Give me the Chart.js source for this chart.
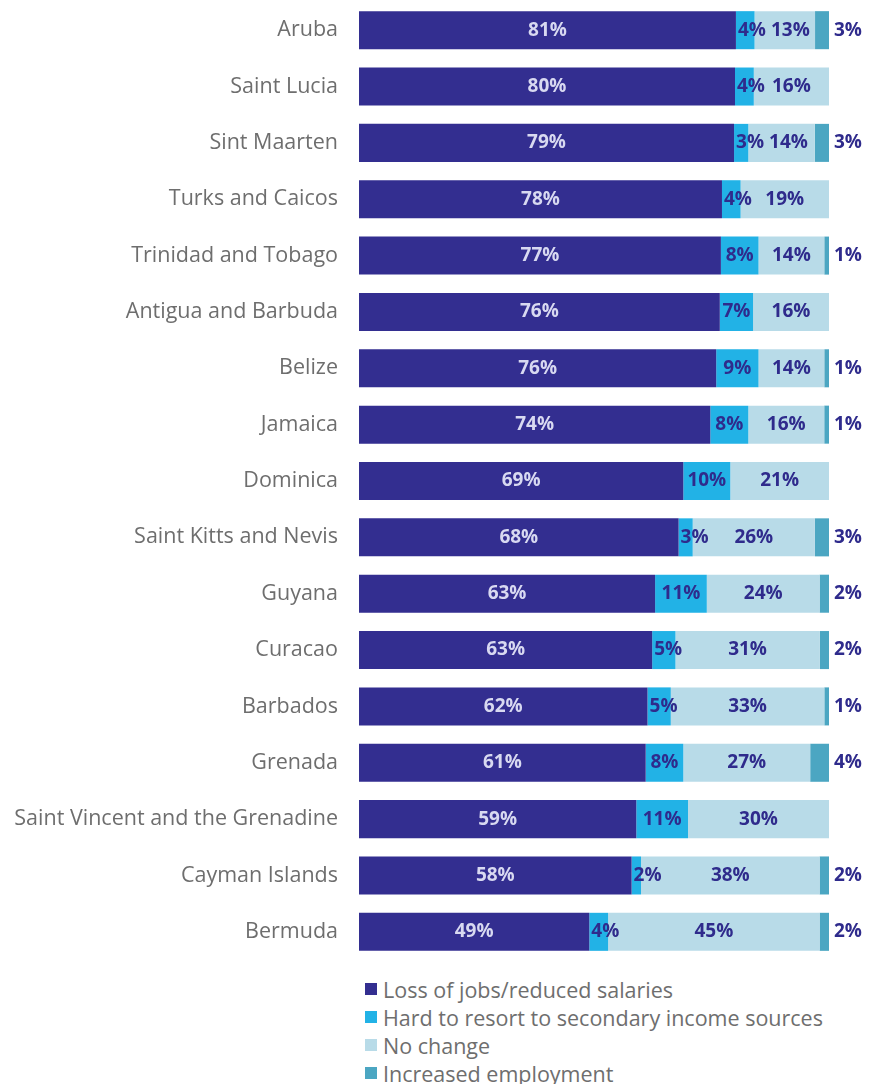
<!DOCTYPE html>
<html>
<head>
<meta charset="utf-8">
<script src="https://cdn.jsdelivr.net/npm/chart.js@4/dist/chart.umd.min.js"></script>
<style>
  html, body { margin: 0; padding: 0; background: #fff; }
  #wrap { position: relative; width: 875px; height: 1084px; }
  #chartBox { position: absolute; left: 0; top: 0; width: 875px; height: 960px; }
  #legend { position: absolute; left: 365px; top: 975px; font-family: "Open Sans", sans-serif; font-size: 21.5px; color: #6e6e6e; }
  #legend .item { display: flex; align-items: center; height: 28px; }
  #legend .sw { width: 12px; height: 12px; margin-right: 6px; }
</style>
</head>
<body>
<div id="wrap">
  <div id="chartBox"><canvas id="c"></canvas></div>
  <div id="legend"></div>
</div>
<script>
const countries = [
  "Aruba", "Saint Lucia", "Sint Maarten", "Turks and Caicos", "Trinidad and Tobago",
  "Antigua and Barbuda", "Belize", "Jamaica", "Dominica", "Saint Kitts and Nevis",
  "Guyana", "Curacao", "Barbados", "Grenada", "Saint Vincent and the Grenadine",
  "Cayman Islands", "Bermuda"
];
const lossOfJobs      = [81, 80, 79, 78, 77, 76, 76, 74, 69, 68, 63, 63, 62, 61, 59, 58, 49];
const hardSecondary   = [4, 4, 3, 4, 8, 7, 9, 8, 10, 3, 11, 5, 5, 8, 11, 2, 4];
const noChange        = [13, 16, 14, 19, 14, 16, 14, 16, 21, 26, 24, 31, 33, 27, 30, 38, 45];
const increasedEmploy = [3, 0, 3, 0, 1, 0, 1, 1, 0, 3, 2, 2, 1, 4, 0, 2, 2];

const seriesNames = [
  "Loss of jobs/reduced salaries",
  "Hard to resort to secondary income sources",
  "No change",
  "Increased employment"
];
const seriesValues = [lossOfJobs, hardSecondary, noChange, increasedEmploy];
const seriesColors = ["#332e90", "#22b2e6", "#b8dbe8", "#4ba6c2"];
const labelColors  = ["#d8d9f1", "#2f2b8c", "#2f2b8c", "#2f2b8c"];

// each bar is shown as its share of the row total, so all rows span the full width
const rowTotals = countries.map((_, i) => seriesValues.reduce((s, arr) => s + arr[i], 0));

const datasets = seriesValues.map((vals, k) => ({
  label: seriesNames[k],
  data: vals.map((v, i) => v / rowTotals[i] * 100),
  raw: vals,
  backgroundColor: seriesColors[k],
  borderWidth: 0,
  barPercentage: 0.675,
  categoryPercentage: 1.0
}));

const valueLabels = {
  id: "valueLabels",
  afterDatasetsDraw(chart) {
    const ctx = chart.ctx;
    ctx.save();
    ctx.font = "bold 19px 'Open Sans', sans-serif";
    ctx.textBaseline = "middle";
    const lastRight = countries.map(() => -Infinity);
    chart.data.datasets.forEach((ds, k) => {
      const meta = chart.getDatasetMeta(k);
      meta.data.forEach((bar, i) => {
        const v = ds.raw[i];
        if (!v) return;
        const text = v + "%";
        ctx.fillStyle = labelColors[k];
        const w = ctx.measureText(text).width;
        if (k === seriesValues.length - 1) {
          // last segment: value written just past the end of the bar
          ctx.textAlign = "left";
          ctx.fillText(text, bar.x + 5, bar.y);
        } else {
          // centred, but kept clear of the segment's left edge and the previous label
          const cx = Math.max((bar.base + bar.x) / 2, bar.base + w / 2 + 2, lastRight[i] + 5 + w / 2);
          ctx.textAlign = "center";
          ctx.fillText(text, cx, bar.y);
          lastRight[i] = cx + w / 2;
        }
      });
    });
    ctx.restore();
  }
};

new Chart(document.getElementById("c"), {
  type: "bar",
  data: { labels: countries, datasets },
  plugins: [valueLabels],
  options: {
    indexAxis: "y",
    responsive: true,
    maintainAspectRatio: false,
    animation: false,
    layout: { padding: { left: 0, right: 46, top: 2, bottom: 0 } },
    plugins: { legend: { display: false }, tooltip: { enabled: false } },
    scales: {
      x: { stacked: true, min: 0, max: 100, display: false },
      y: {
        stacked: true,
        grid: { display: false, drawTicks: false },
        border: { display: false },
        ticks: {
          padding: 21,
          color: "#6e6e6e",
          font: { family: "'Open Sans', sans-serif", size: 21.5 }
        },
        afterFit(scale) {
          scale.width = 359;
          scale.paddingTop = 0;
          scale.paddingBottom = 0;
        }
      }
    }
  }
});

// legend, one entry per line
const legendEl = document.getElementById("legend");
seriesNames.forEach((name, k) => {
  const item = document.createElement("div");
  item.className = "item";
  const sw = document.createElement("span");
  sw.className = "sw";
  sw.style.background = seriesColors[k];
  const t = document.createElement("span");
  t.textContent = name;
  item.appendChild(sw);
  item.appendChild(t);
  legendEl.appendChild(item);
});
</script>
</body>
</html>
